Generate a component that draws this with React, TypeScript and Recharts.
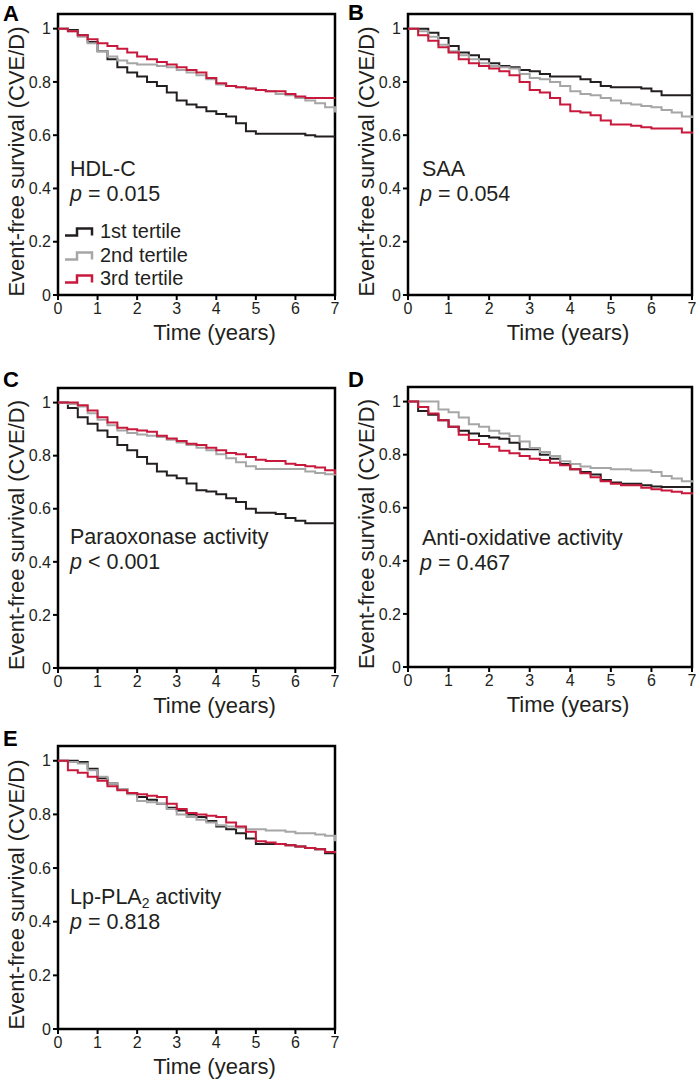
import React from "react";
import {
  LineChart,
  Line,
  XAxis,
  YAxis,
  ReferenceArea,
  Legend,
} from "recharts";

const FONT = '"Liberation Sans", Arial, Helvetica, sans-serif';
const INK = "#231f20";
const C1 = "#231f20";
const C2 = "#a6a6a6";
const C3 = "#c8193c";

// follow-up time grid (years)
const TIMES = [
  0, 0.25, 0.5, 0.75, 1, 1.25, 1.5, 1.75, 2, 2.25, 2.5, 2.75, 3, 3.25, 3.5,
  3.75, 4, 4.25, 4.5, 4.75, 5, 5.25, 5.5, 5.75, 6, 6.25, 6.5, 6.75, 7,
];
const X_TICKS = [0, 1, 2, 3, 4, 5, 6, 7];
const Y_TICKS = [0, 0.2, 0.4, 0.6, 0.8, 1];
const TERTILES = ["1st tertile", "2nd tertile", "3rd tertile"];

// A: HDL-C
const A1 = [1, 0.995, 0.975, 0.95, 0.915, 0.885, 0.855, 0.835, 0.82, 0.8, 0.785, 0.76, 0.73, 0.715, 0.705, 0.69, 0.68, 0.67, 0.645, 0.615, 0.605, 0.605, 0.605, 0.605, 0.605, 0.6, 0.595, 0.595, 0.595];
const A2 = [1, 0.99, 0.97, 0.945, 0.915, 0.895, 0.88, 0.87, 0.865, 0.865, 0.86, 0.855, 0.845, 0.835, 0.825, 0.81, 0.79, 0.785, 0.78, 0.775, 0.77, 0.765, 0.755, 0.75, 0.74, 0.73, 0.72, 0.705, 0.685];
const A3 = [1, 0.99, 0.975, 0.96, 0.945, 0.935, 0.925, 0.91, 0.895, 0.885, 0.875, 0.865, 0.855, 0.845, 0.835, 0.815, 0.795, 0.785, 0.78, 0.775, 0.77, 0.765, 0.765, 0.755, 0.745, 0.74, 0.74, 0.74, 0.74];

// B: SAA
const B1 = [1, 1, 0.985, 0.965, 0.935, 0.91, 0.9, 0.885, 0.87, 0.86, 0.855, 0.845, 0.84, 0.83, 0.82, 0.82, 0.82, 0.81, 0.8, 0.785, 0.78, 0.78, 0.78, 0.775, 0.765, 0.75, 0.75, 0.75, 0.75];
const B2 = [1, 0.99, 0.97, 0.94, 0.915, 0.9, 0.885, 0.87, 0.86, 0.855, 0.85, 0.83, 0.815, 0.81, 0.8, 0.785, 0.765, 0.755, 0.75, 0.74, 0.73, 0.72, 0.715, 0.71, 0.705, 0.695, 0.685, 0.67, 0.665];
const B3 = [1, 0.975, 0.955, 0.93, 0.91, 0.885, 0.87, 0.86, 0.85, 0.84, 0.825, 0.8, 0.77, 0.76, 0.74, 0.715, 0.69, 0.685, 0.675, 0.655, 0.64, 0.64, 0.635, 0.63, 0.625, 0.625, 0.625, 0.61, 0.605];

// C: Paraoxonase activity
const C1v = [1, 0.98, 0.945, 0.92, 0.895, 0.87, 0.84, 0.82, 0.795, 0.77, 0.74, 0.725, 0.715, 0.695, 0.67, 0.665, 0.655, 0.64, 0.625, 0.6, 0.585, 0.585, 0.58, 0.565, 0.555, 0.545, 0.545, 0.545, 0.545];
const C2v = [1, 0.995, 0.985, 0.96, 0.935, 0.915, 0.895, 0.885, 0.88, 0.875, 0.87, 0.86, 0.85, 0.84, 0.83, 0.82, 0.805, 0.79, 0.775, 0.76, 0.75, 0.75, 0.75, 0.75, 0.75, 0.74, 0.735, 0.73, 0.725];
const C3v = [1, 1, 0.99, 0.97, 0.945, 0.925, 0.905, 0.9, 0.895, 0.89, 0.875, 0.865, 0.855, 0.845, 0.84, 0.83, 0.82, 0.81, 0.805, 0.795, 0.785, 0.78, 0.78, 0.77, 0.765, 0.76, 0.755, 0.745, 0.73];

// D: Anti-oxidative activity
const D1 = [1, 0.965, 0.95, 0.93, 0.905, 0.89, 0.88, 0.87, 0.865, 0.86, 0.845, 0.82, 0.82, 0.8, 0.785, 0.765, 0.745, 0.735, 0.725, 0.705, 0.695, 0.69, 0.69, 0.685, 0.68, 0.678, 0.678, 0.678, 0.678];
const D2 = [1, 1, 1, 0.97, 0.96, 0.94, 0.915, 0.905, 0.89, 0.88, 0.87, 0.85, 0.825, 0.81, 0.795, 0.775, 0.765, 0.755, 0.75, 0.75, 0.745, 0.745, 0.74, 0.74, 0.735, 0.72, 0.71, 0.7, 0.695];
const D3 = [1, 0.98, 0.955, 0.93, 0.905, 0.875, 0.855, 0.84, 0.83, 0.815, 0.805, 0.795, 0.785, 0.78, 0.77, 0.76, 0.745, 0.73, 0.715, 0.7, 0.69, 0.685, 0.685, 0.675, 0.67, 0.665, 0.66, 0.655, 0.65];

// E: Lp-PLA2 activity
const E1 = [1, 1, 0.995, 0.97, 0.935, 0.915, 0.895, 0.88, 0.865, 0.855, 0.84, 0.825, 0.815, 0.8, 0.79, 0.775, 0.755, 0.745, 0.73, 0.71, 0.69, 0.69, 0.69, 0.685, 0.68, 0.675, 0.67, 0.655, 0.655];
const E2 = [1, 0.995, 0.99, 0.965, 0.94, 0.915, 0.895, 0.875, 0.85, 0.845, 0.84, 0.82, 0.8, 0.79, 0.78, 0.77, 0.76, 0.755, 0.75, 0.745, 0.745, 0.74, 0.74, 0.735, 0.73, 0.73, 0.725, 0.72, 0.7];
const E3 = [1, 0.965, 0.955, 0.94, 0.925, 0.905, 0.89, 0.88, 0.875, 0.87, 0.865, 0.84, 0.82, 0.805, 0.8, 0.795, 0.79, 0.77, 0.755, 0.735, 0.7, 0.695, 0.69, 0.685, 0.68, 0.675, 0.67, 0.66, 0.655];

const toRows = (s1: number[], s2: number[], s3: number[]) =>
  TIMES.map((t, i) => ({ t, s1: s1[i], s2: s2[i], s3: s3[i] }));

const Y_MAX = 1.055;
const TOP = 14;
const AXIS_W = 58;

const yTitle = (props: any) => {
  const vb = props.viewBox;
  const cx = vb.x + 16;
  const cy = vb.y + vb.height / 2 + 7;
  return (
    <text
      x={cx}
      y={cy}
      transform={`rotate(-90, ${cx}, ${cy})`}
      textAnchor="middle"
      dominantBaseline="central"
      fontSize={22}
      fill={INK}
      fontFamily={FONT}
    >
      Event-free survival (CVE/D)
    </text>
  );
};

const xTitle = (props: any) => {
  const vb = props.viewBox;
  return (
    <text
      x={vb.x + vb.width / 2 + 18}
      y={vb.y + 45}
      textAnchor="middle"
      fontSize={22}
      fill={INK}
      fontFamily={FONT}
    >
      Time (years)
    </text>
  );
};

const legendContent = (props: any) => (
  <div style={{ fontFamily: FONT, fontSize: 20, color: INK, lineHeight: "23.5px" }}>
    {(props.payload || []).map((p: any) => (
      <div key={p.value} style={{ display: "flex", height: 23.5, whiteSpace: "nowrap" }}>
        <svg width={36} height={23.5}>
          <path d="M1,15.5 H13 V8.5 H28 V15.5" fill="none" stroke={p.color} strokeWidth={2.5} />
        </svg>
        <span>{p.value}</span>
      </div>
    ))}
  </div>
);

interface PanelProps {
  x: number;
  y: number;
  plotW: number;
  plotH: number;
  rows: { t: number; s1: number; s2: number; s3: number }[];
  legend?: boolean;
}

function Panel({ x, y, plotW, plotH, rows, legend }: PanelProps) {
  const width = AXIS_W + plotW + 6;
  const height = TOP + plotH + 55;
  const tickStyle = { fill: INK, fontSize: 16, fontFamily: FONT };
  return (
    <div style={{ position: "absolute", left: x, top: y }}>
      <LineChart
        width={width}
        height={height}
        data={rows}
        margin={{ top: TOP, right: 6, left: 0, bottom: 0 }}
      >
        <XAxis
          dataKey="t"
          type="number"
          domain={[0, 7]}
          ticks={X_TICKS}
          height={55}
          axisLine={false}
          tickLine={{ stroke: "#000", strokeWidth: 2 }}
          tickSize={5}
          tickMargin={3}
          tick={tickStyle}
          label={xTitle}
        />
        <YAxis
          type="number"
          domain={[0, Y_MAX]}
          ticks={Y_TICKS}
          width={AXIS_W}
          axisLine={false}
          tickLine={{ stroke: "#000", strokeWidth: 2 }}
          tickSize={5}
          tickMargin={2}
          tick={tickStyle}
          label={yTitle}
        />
        <Line type="stepAfter" dataKey="s1" name={TERTILES[0]} stroke={C1} strokeWidth={2} dot={false} isAnimationActive={false} />
        <Line type="stepAfter" dataKey="s2" name={TERTILES[1]} stroke={C2} strokeWidth={2} dot={false} isAnimationActive={false} />
        <Line type="stepAfter" dataKey="s3" name={TERTILES[2]} stroke={C3} strokeWidth={2} dot={false} isAnimationActive={false} />
        <ReferenceArea x1={0} x2={7} y1={0} y2={Y_MAX} fill="none" stroke="#000" strokeWidth={2.5} ifOverflow="visible" />
        {legend && (
          <Legend
            layout="vertical"
            align="center"
            verticalAlign="middle"
            content={legendContent}
            wrapperStyle={{ left: 64, top: 220, width: 200 }}
          />
        )}
      </LineChart>
    </div>
  );
}

const letterStyle = { fontFamily: FONT, fontSize: 22, fontWeight: 700, fill: "#000" };
const noteStyle = { fontFamily: FONT, fontSize: 21.5, fill: INK };

function Notes() {
  const pLine = (x: number, y: number, rest: string) => (
    <text x={x} y={y} style={noteStyle}>
      <tspan fontStyle="italic">p</tspan>
      {rest}
    </text>
  );
  return (
    <svg
      width={697}
      height={1081}
      style={{ position: "absolute", left: 0, top: 0, pointerEvents: "none" }}
    >
      <text x={3} y={21} style={letterStyle}>A</text>
      <text x={348} y={20} style={letterStyle}>B</text>
      <text x={3} y={387} style={letterStyle}>C</text>
      <text x={348} y={387} style={letterStyle}>D</text>
      <text x={3} y={746} style={letterStyle}>E</text>

      <text x={70} y={176} style={noteStyle}>HDL-C</text>
      {pLine(70, 201, " = 0.015")}
      <text x={422} y={176} style={noteStyle}>SAA</text>
      {pLine(420, 201, " = 0.054")}
      <text x={70} y={544} style={noteStyle}>Paraoxonase activity</text>
      {pLine(70, 569, " < 0.001")}
      <text x={422} y={545} style={noteStyle}>Anti-oxidative activity</text>
      {pLine(420, 570, " = 0.467")}
      <text x={70} y={904} style={noteStyle}>
        Lp-PLA<tspan fontSize={14} dy={4}>2</tspan>
        <tspan dy={-4}> activity</tspan>
      </text>
      {pLine(70, 929, " = 0.818")}
    </svg>
  );
}

export default function App() {
  return (
    <div
      style={{
        position: "absolute",
        left: 0,
        top: 0,
        width: 697,
        height: 1081,
        background: "#fff",
        overflow: "hidden",
      }}
    >
      <Panel x={0} y={0} plotW={277} plotH={281} rows={toRows(A1, A2, A3)} legend />
      <Panel x={350} y={0} plotW={284} plotH={281} rows={toRows(B1, B2, B3)} />
      <Panel x={0} y={374} plotW={277} plotH={280} rows={toRows(C1v, C2v, C3v)} />
      <Panel x={350} y={373} plotW={284} plotH={280} rows={toRows(D1, D2, D3)} />
      <Panel x={0} y={732} plotW={277} plotH={283} rows={toRows(E1, E2, E3)} />
      <Notes />
    </div>
  );
}
